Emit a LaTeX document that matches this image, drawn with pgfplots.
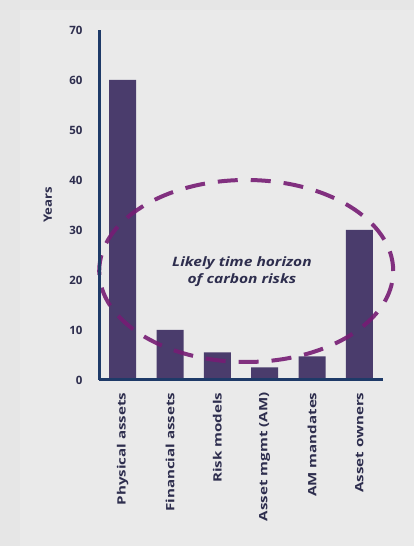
\documentclass[border=0pt]{standalone}
\usepackage{pgfplots}
\pgfplotsset{compat=1.18}
\usepackage{fontspec}
\setmainfont{Open Sans}

\definecolor{pagebg}{HTML}{E6E6E6}
\definecolor{panelbg}{HTML}{EAEAEA}
\definecolor{barcol}{HTML}{4A3C6C}
\definecolor{axiscol}{HTML}{1E3A68}
\definecolor{txtcol}{HTML}{2E2E4E}
\definecolor{ringcol}{HTML}{761C74}

% category labels are set a little wide
\newcommand{\wide}[1]{\scalebox{1.32}[1]{#1}}

\begin{document}
\begin{tikzpicture}[x=1bp,y=1bp]
  % page and panel
  \path[use as bounding box, fill=pagebg] (0,0) rectangle (414,546);
  \fill[panelbg] (20,0) rectangle (414,536);
  \begin{axis}[
    at={(99bp,166bp)}, anchor=south west,
    scale only axis, width=284bp, height=350bp,
    xmin=-0.5, xmax=5.5, ymin=0, ymax=70,
    clip=false,
    axis x line=bottom, axis y line=left,
    axis line style={-, line width=3bp, draw=axiscol},
    axis on top,
    major tick length=0pt,
    ytick={0,10,...,70},
    xtick={0,...,5},
    xticklabels={\wide{Physical assets}, \wide{Financial assets}, \wide{Risk models},
                 \wide{Asset mgmt (AM)}, \wide{AM mandates}, \wide{Asset owners}},
    /pgf/number format/assume math mode=true,
    yticklabel style={font=\fontsize{11.5}{13}\selectfont\bfseries, text=txtcol},
    yticklabel shift=13bp,
    xticklabel style={rotate=90, anchor=east, font=\fontsize{11.5}{13}\selectfont\bfseries, text=txtcol},
    xticklabel shift=9bp,
    ylabel={\scalebox{1.15}[1]{Years}},
    every axis y label/.style={at={(axis description cs:-0.18,0.5)}, rotate=90, anchor=center,
      font=\fontsize{11.5}{13}\selectfont\bfseries, text=txtcol},
  ]
    \addplot[ybar, bar width=27bp, fill=barcol, draw=none] coordinates {
      (0,60) (1,10) (2,5.5) (3,2.5) (4,4.7) (5,30)
    };
    % dashed ring marking the likely time horizon
    \draw[ringcol, line width=4bp, dash pattern=on 20bp off 13bp, opacity=0.9]
      (axis cs:2.61,21.8) ellipse [x radius=147bp, y radius=91bp];
    \node[text=txtcol, font=\fontsize{13}{18}\selectfont\bfseries\itshape]
      at (axis cs:2.52,21.8) {\scalebox{1.2}[1]{\begin{tabular}{@{}c@{}}Likely time horizon\\[-1pt] of carbon risks\end{tabular}}};
  \end{axis}
\end{tikzpicture}
\end{document}
